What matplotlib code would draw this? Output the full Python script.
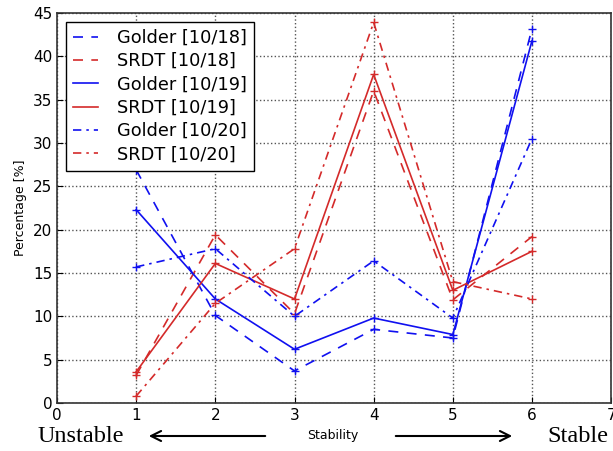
import numpy as np
import matplotlib
matplotlib.use('Agg')
from matplotlib import pyplot as plt

stability = [1, 2, 3, 4, 5, 6]
golder_1018 = [26.9, 10.1, 3.7, 8.5, 7.5, 43.2]
srdt_1018 = [3.2, 19.4, 10.3, 36.0, 11.9, 19.2]
golder_1019 = [22.3, 12.0, 6.2, 9.8, 7.9, 41.8]
srdt_1019 = [3.6, 16.1, 12.0, 37.9, 13.0, 17.5]
golder_1020 = [15.7, 17.8, 10.0, 16.4, 9.8, 30.5]
srdt_1020 = [0.8, 11.5, 17.8, 43.9, 14.0, 12.0]

labels = ['Golder [10/18]', 'SRDT [10/18]', 'Golder [10/19]',
          'SRDT [10/19]', 'Golder [10/20]', 'SRDT [10/20]']
series = [golder_1018, srdt_1018, golder_1019, srdt_1019, golder_1020, srdt_1020]
blue = '#1010f0'
red = '#d42a2a'
colors = [blue, red, blue, red, blue, red]
dashes = [(6, 5), (6, 5), (), (), (5, 3, 1.5, 3), (5, 3, 1.5, 3)]

fig = plt.figure(figsize=(6.13, 4.51), dpi=100)
ax = fig.add_axes([0.093, 0.1064, 0.904, 0.865])

for ys, lab, c, d in zip(series, labels, colors, dashes):
    if d:
        ax.plot(stability, ys, '-', color=c, lw=1.2, label=lab, dashes=d)
    else:
        ax.plot(stability, ys, '-', color=c, lw=1.2, label=lab)
    ax.plot(stability, ys, '+', color=c, ms=6, mew=1)

ax.set_xlim(0, 7)
ax.set_ylim(0, 45)
ax.set_xticks(range(0, 8))
ax.set_yticks(range(0, 46, 5))
ax.grid(True, ls=':', color='#555555', lw=1)
ax.tick_params(direction='in', labelsize=11, length=4)
for s in ax.spines.values():
    s.set_linewidth(1.2)
    s.set_color('#333333')
ax.set_ylabel('Percentage [%]', fontsize=9)

leg = ax.legend(loc='upper left', fontsize=12.8, fancybox=False, framealpha=1,
                edgecolor='black', borderaxespad=0.5, handlelength=1.4,
                labelspacing=0.3, handletextpad=1.1, borderpad=0.4)
leg.get_frame().set_linewidth(1)

ty = 1 - 436 / 451
fig.text(0.543, ty, 'Stability', ha='center', va='center', fontsize=9)
fig.text(38 / 613, ty, 'Unstable', ha='left', va='center', fontsize=17.5,
         family='Liberation Serif')
fig.text(608 / 613, ty, 'Stable', ha='right', va='center', fontsize=17.5,
         family='Liberation Serif')
fig.patches.append(matplotlib.patches.FancyArrowPatch(
    (268 / 613, ty), (146 / 613, ty), transform=fig.transFigure,
    arrowstyle='->', mutation_scale=18, lw=1.5, color='black'))
fig.patches.append(matplotlib.patches.FancyArrowPatch(
    (393 / 613, ty), (515 / 613, ty), transform=fig.transFigure,
    arrowstyle='->', mutation_scale=18, lw=1.5, color='black'))

fig.savefig('out.png', dpi=100)
